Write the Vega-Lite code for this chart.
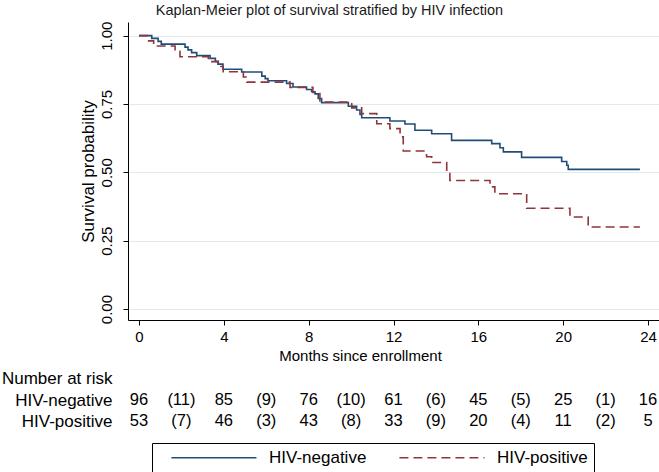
{
  "$schema": "https://vega.github.io/schema/vega-lite/v6.json",
  "background": "white",
  "padding": {"left": 0, "top": 2, "right": 0, "bottom": 0},
  "autosize": {"type": "pad"},
  "title": {"text": "Kaplan-Meier plot of survival stratified by HIV infection", "font": "Liberation Sans", "fontSize": 14.5, "fontWeight": "normal", "color": "#1a1a1a", "anchor": "middle", "frame": "bounds", "offset": 3},
  "config": {"view": {"stroke": null}, "font": "Liberation Sans"},
  "datasets": {
    "km": [
      {"group": "HIV-negative", "t": 0, "S": 1.0},
      {"group": "HIV-negative", "t": 0.6, "S": 0.99},
      {"group": "HIV-negative", "t": 0.9, "S": 0.979},
      {"group": "HIV-negative", "t": 1.05, "S": 0.969},
      {"group": "HIV-negative", "t": 2.17, "S": 0.958},
      {"group": "HIV-negative", "t": 2.31, "S": 0.948},
      {"group": "HIV-negative", "t": 2.48, "S": 0.938},
      {"group": "HIV-negative", "t": 2.72, "S": 0.927},
      {"group": "HIV-negative", "t": 3.35, "S": 0.917},
      {"group": "HIV-negative", "t": 3.6, "S": 0.906},
      {"group": "HIV-negative", "t": 3.72, "S": 0.896},
      {"group": "HIV-negative", "t": 3.96, "S": 0.877},
      {"group": "HIV-negative", "t": 4.84, "S": 0.867},
      {"group": "HIV-negative", "t": 5.79, "S": 0.852},
      {"group": "HIV-negative", "t": 5.95, "S": 0.843},
      {"group": "HIV-negative", "t": 6.08, "S": 0.835},
      {"group": "HIV-negative", "t": 6.96, "S": 0.825},
      {"group": "HIV-negative", "t": 7.26, "S": 0.812},
      {"group": "HIV-negative", "t": 7.9, "S": 0.803},
      {"group": "HIV-negative", "t": 8.14, "S": 0.795},
      {"group": "HIV-negative", "t": 8.3, "S": 0.787},
      {"group": "HIV-negative", "t": 8.45, "S": 0.77},
      {"group": "HIV-negative", "t": 8.61, "S": 0.755},
      {"group": "HIV-negative", "t": 9.87, "S": 0.742},
      {"group": "HIV-negative", "t": 10.26, "S": 0.728},
      {"group": "HIV-negative", "t": 10.42, "S": 0.712},
      {"group": "HIV-negative", "t": 10.5, "S": 0.7},
      {"group": "HIV-negative", "t": 11.83, "S": 0.688},
      {"group": "HIV-negative", "t": 12.54, "S": 0.677},
      {"group": "HIV-negative", "t": 13.01, "S": 0.654},
      {"group": "HIV-negative", "t": 13.8, "S": 0.641},
      {"group": "HIV-negative", "t": 14.74, "S": 0.617},
      {"group": "HIV-negative", "t": 16.63, "S": 0.605},
      {"group": "HIV-negative", "t": 17.02, "S": 0.59},
      {"group": "HIV-negative", "t": 17.18, "S": 0.575},
      {"group": "HIV-negative", "t": 18.04, "S": 0.555},
      {"group": "HIV-negative", "t": 19.93, "S": 0.54},
      {"group": "HIV-negative", "t": 20.17, "S": 0.526},
      {"group": "HIV-negative", "t": 20.24, "S": 0.511},
      {"group": "HIV-negative", "t": 23.62, "S": 0.511},
      {"group": "HIV-positive", "t": 0, "S": 1.0},
      {"group": "HIV-positive", "t": 0.38, "S": 0.981},
      {"group": "HIV-positive", "t": 0.69, "S": 0.962},
      {"group": "HIV-positive", "t": 1.7, "S": 0.943},
      {"group": "HIV-positive", "t": 1.93, "S": 0.923},
      {"group": "HIV-positive", "t": 3.27, "S": 0.905},
      {"group": "HIV-positive", "t": 3.74, "S": 0.887},
      {"group": "HIV-positive", "t": 3.97, "S": 0.868},
      {"group": "HIV-positive", "t": 4.92, "S": 0.849},
      {"group": "HIV-positive", "t": 5.08, "S": 0.83},
      {"group": "HIV-positive", "t": 7.12, "S": 0.811},
      {"group": "HIV-positive", "t": 8.2, "S": 0.792},
      {"group": "HIV-positive", "t": 8.53, "S": 0.757},
      {"group": "HIV-positive", "t": 10.03, "S": 0.736},
      {"group": "HIV-positive", "t": 10.5, "S": 0.715},
      {"group": "HIV-positive", "t": 11.21, "S": 0.678},
      {"group": "HIV-positive", "t": 11.83, "S": 0.66},
      {"group": "HIV-positive", "t": 12.31, "S": 0.63},
      {"group": "HIV-positive", "t": 12.46, "S": 0.578},
      {"group": "HIV-positive", "t": 13.56, "S": 0.557},
      {"group": "HIV-positive", "t": 13.8, "S": 0.536},
      {"group": "HIV-positive", "t": 14.51, "S": 0.496},
      {"group": "HIV-positive", "t": 14.66, "S": 0.47},
      {"group": "HIV-positive", "t": 16.55, "S": 0.447},
      {"group": "HIV-positive", "t": 16.78, "S": 0.422},
      {"group": "HIV-positive", "t": 18.28, "S": 0.369},
      {"group": "HIV-positive", "t": 20.32, "S": 0.337},
      {"group": "HIV-positive", "t": 21.18, "S": 0.3},
      {"group": "HIV-positive", "t": 23.62, "S": 0.3}
    ],
    "risk": [
      {"group": "HIV-negative", "t": 0, "label": "96"},
      {"group": "HIV-negative", "t": 2, "label": "(11)"},
      {"group": "HIV-negative", "t": 4, "label": "85"},
      {"group": "HIV-negative", "t": 6, "label": "(9)"},
      {"group": "HIV-negative", "t": 8, "label": "76"},
      {"group": "HIV-negative", "t": 10, "label": "(10)"},
      {"group": "HIV-negative", "t": 12, "label": "61"},
      {"group": "HIV-negative", "t": 14, "label": "(6)"},
      {"group": "HIV-negative", "t": 16, "label": "45"},
      {"group": "HIV-negative", "t": 18, "label": "(5)"},
      {"group": "HIV-negative", "t": 20, "label": "25"},
      {"group": "HIV-negative", "t": 22, "label": "(1)"},
      {"group": "HIV-negative", "t": 24, "label": "16"},
      {"group": "HIV-positive", "t": 0, "label": "53"},
      {"group": "HIV-positive", "t": 2, "label": "(7)"},
      {"group": "HIV-positive", "t": 4, "label": "46"},
      {"group": "HIV-positive", "t": 6, "label": "(3)"},
      {"group": "HIV-positive", "t": 8, "label": "43"},
      {"group": "HIV-positive", "t": 10, "label": "(8)"},
      {"group": "HIV-positive", "t": 12, "label": "33"},
      {"group": "HIV-positive", "t": 14, "label": "(9)"},
      {"group": "HIV-positive", "t": 16, "label": "20"},
      {"group": "HIV-positive", "t": 18, "label": "(4)"},
      {"group": "HIV-positive", "t": 20, "label": "11"},
      {"group": "HIV-positive", "t": 22, "label": "(2)"},
      {"group": "HIV-positive", "t": 24, "label": "5"}
    ]
  },
  "bounds": "flush",
  "spacing": 48,
  "vconcat": [
    {
      "width": 531,
      "height": 298,
      "data": {"name": "km"},
      "mark": {"type": "line", "interpolate": "step-after", "strokeWidth": 1.6},
      "encoding": {
        "x": {"field": "t", "type": "quantitative", "scale": {"domain": [-0.52, 24.52], "nice": false, "zero": false},
          "axis": {"values": [0, 4, 8, 12, 16, 20, 24], "title": "Months since enrollment", "titleX": 232, "grid": false, "domainColor": "#000", "tickColor": "#000", "tickSize": 5, "labelFontSize": 15, "titleFontSize": 15, "titleFontWeight": "normal", "labelColor": "#000", "titleColor": "#000", "labelPadding": 4, "titlePadding": 4, "labelFont": "Liberation Sans", "titleFont": "Liberation Sans"}},
        "y": {"field": "S", "type": "quantitative", "scale": {"domain": [-0.04, 1.05], "nice": false, "zero": false},
          "axis": {"values": [0, 0.25, 0.5, 0.75, 1], "format": ".2f", "labelAngle": -90, "labelAlign": "center", "labelBaseline": "bottom", "grid": true, "gridColor": "#e1eaee", "gridWidth": 1, "title": "Survival probability", "domainColor": "#000", "tickColor": "#000", "tickSize": 5, "labelFontSize": 15, "titleFontSize": 17, "titleFontWeight": "normal", "labelColor": "#000", "titleColor": "#000", "labelPadding": 9, "titlePadding": 2, "labelFont": "Liberation Sans", "titleFont": "Liberation Sans"}},
        "color": {"field": "group", "type": "nominal", "scale": {"domain": ["HIV-negative", "HIV-positive"], "range": ["#204d77", "#90353b"]},
          "legend": {"orient": "none", "legendX": 24, "legendY": 421, "direction": "horizontal", "title": null, "strokeColor": "#000", "fillColor": "white", "padding": 6, "symbolType": "M-1,0H11", "symbolSize": 201, "symbolStrokeWidth": 1.6, "labelFontSize": 17, "labelColor": "#000", "labelFont": "Liberation Sans", "columnPadding": 19, "labelOffset": 82, "symbolOffset": 12}},
        "strokeDash": {"field": "group", "type": "nominal", "scale": {"domain": ["HIV-negative", "HIV-positive"], "range": [[1, 0], [9, 5]]},
          "legend": {"orient": "none", "legendX": 24, "legendY": 421, "direction": "horizontal", "title": null, "strokeColor": "#000", "fillColor": "white", "padding": 6, "symbolType": "M-1,0H11", "symbolSize": 201, "symbolStrokeWidth": 1.6, "labelFontSize": 17, "labelColor": "#000", "labelFont": "Liberation Sans", "columnPadding": 19, "labelOffset": 82, "symbolOffset": 12}}
      }
    },
    {
      "width": 531,
      "height": 64,
      "data": {"name": "risk"},
      "mark": {"type": "text", "fontSize": 16.5, "color": "#000", "font": "Liberation Sans"},
      "encoding": {
        "x": {"field": "t", "type": "quantitative", "scale": {"domain": [-0.52, 24.52], "nice": false, "zero": false}, "axis": null},
        "y": {"field": "group", "type": "nominal", "scale": {"type": "point", "domain": ["Number at risk", "HIV-negative", "HIV-positive"], "padding": 0.5},
          "axis": {"title": null, "domain": false, "ticks": false, "labelFontSize": 17, "labelPadding": 16, "labelColor": "#000", "labelFont": "Liberation Sans", "minExtent": 128}},
        "text": {"field": "label"}
      }
    }
  ]
}
